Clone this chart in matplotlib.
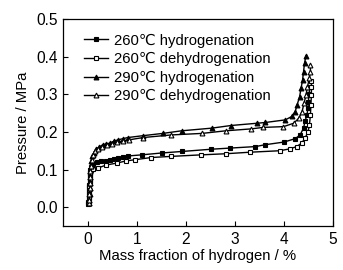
import matplotlib
matplotlib.use('Agg')
import matplotlib.pyplot as plt

plt.rcParams['font.family'] = ['Liberation Sans', 'DejaVu Sans']
plt.rcParams['font.size'] = 10.7

# 260 C hydrogenation (filled squares)
x_260_h = [0.02, 0.02, 0.025, 0.03, 0.03, 0.035, 0.04, 0.045, 0.05, 0.06, 0.08, 0.12,
           0.2, 0.28, 0.37, 0.45, 0.53, 0.62, 0.72, 0.82, 1.1, 1.51, 1.92, 2.52, 2.9,
           3.42, 3.62, 4.0, 4.23, 4.33, 4.4, 4.43, 4.47, 4.49, 4.5, 4.51, 4.53]
y_260_h = [0.01, 0.02, 0.03, 0.04, 0.05, 0.06, 0.07, 0.08, 0.09, 0.1, 0.108, 0.115,
           0.12, 0.122, 0.124, 0.126, 0.128, 0.13, 0.133, 0.136, 0.139, 0.144, 0.148,
           0.154, 0.157, 0.161, 0.166, 0.173, 0.182, 0.192, 0.21, 0.228, 0.246, 0.263,
           0.28, 0.3, 0.32]

# 260 C dehydrogenation (open squares)
x_260_d = [0.01, 0.015, 0.02, 0.025, 0.03, 0.035, 0.04, 0.045, 0.05, 0.06, 0.08, 0.12,
           0.21, 0.38, 0.59, 0.79, 0.96, 1.3, 1.71, 2.31, 2.82, 3.3, 3.92, 4.12, 4.26,
           4.36, 4.43, 4.49, 4.52, 4.54, 4.55, 4.56, 4.56, 4.56]
y_260_d = [0.008, 0.015, 0.025, 0.035, 0.045, 0.055, 0.065, 0.075, 0.085, 0.092, 0.098,
           0.101, 0.104, 0.112, 0.117, 0.123, 0.126, 0.132, 0.135, 0.139, 0.142, 0.146,
           0.15, 0.155, 0.161, 0.17, 0.183, 0.2, 0.218, 0.245, 0.272, 0.298, 0.32, 0.335]

# 290 C hydrogenation (filled triangles)
x_290_h = [0.03, 0.035, 0.04, 0.045, 0.05, 0.055, 0.06, 0.07, 0.08, 0.1, 0.13, 0.18,
           0.24, 0.31, 0.38, 0.45, 0.53, 0.62, 0.72, 0.82, 1.13, 1.53, 1.92, 2.53, 2.92,
           3.45, 3.62, 4.03, 4.16, 4.23, 4.27, 4.32, 4.35, 4.38, 4.4, 4.42, 4.45]
y_290_h = [0.01, 0.02, 0.035, 0.05, 0.065, 0.08, 0.095, 0.11, 0.122, 0.135, 0.145, 0.155,
           0.16, 0.166, 0.168, 0.17, 0.175, 0.179, 0.182, 0.185, 0.19, 0.196, 0.203,
           0.21, 0.217, 0.223, 0.225, 0.232, 0.241, 0.254, 0.272, 0.294, 0.316, 0.338,
           0.36, 0.383, 0.402]

# 290 C dehydrogenation (open triangles)
x_290_d = [0.025, 0.03, 0.035, 0.04, 0.045, 0.05, 0.06, 0.07, 0.09, 0.12, 0.16, 0.22,
           0.3, 0.4, 0.5, 0.6, 0.72, 0.85, 1.13, 1.71, 2.33, 2.82, 3.33, 3.58, 3.99, 4.2,
           4.3, 4.37, 4.41, 4.45, 4.48, 4.52, 4.54, 4.54]
y_290_d = [0.01, 0.02, 0.035, 0.05, 0.065, 0.08, 0.095, 0.11, 0.125, 0.138, 0.148, 0.155,
           0.16, 0.164, 0.168, 0.172, 0.176, 0.179, 0.185, 0.192, 0.196, 0.203, 0.208,
           0.212, 0.214, 0.223, 0.236, 0.254, 0.276, 0.298, 0.32, 0.343, 0.36, 0.377]

labels = ['260\u2103 hydrogenation', '260\u2103 dehydrogenation',
          '290\u2103 hydrogenation', '290\u2103 dehydrogenation']

fig = plt.figure(figsize=(3.43, 2.70), dpi=100)
ax = fig.add_axes([63 / 343, 1 - 226 / 270, 270 / 343, 207 / 270])

style = dict(color='black', linewidth=1.0, markersize=3.5, markeredgewidth=0.8)
ax.plot(x_260_h, y_260_h, marker='s', markerfacecolor='black', label=labels[0], **style)
ax.plot(x_260_d, y_260_d, marker='s', markerfacecolor='white', label=labels[1], **style)
ax.plot(x_290_h, y_290_h, marker='^', markerfacecolor='black', label=labels[2], **style)
ax.plot(x_290_d, y_290_d, marker='^', markerfacecolor='white', label=labels[3], **style)

ax.set_xlim(-0.5, 5)
ax.set_ylim(-0.05, 0.5)
ax.set_xticks([0, 1, 2, 3, 4, 5])
ax.set_yticks([0.0, 0.1, 0.2, 0.3, 0.4, 0.5])
ax.set_yticklabels(['0.0', '0.1', '0.2', '0.3', '0.4', '0.5'])
ax.tick_params(direction='in', length=3.5, width=0.8, top=False, right=False, pad=4,
               labelsize=11.2)
for s in ax.spines.values():
    s.set_linewidth(0.9)

ax.set_xlabel('Mass fraction of hydrogen / %', labelpad=2)
ax.set_ylabel('Pressure / MPa', labelpad=4)

ax.legend(loc='upper left', frameon=False, handlelength=1.6, handletextpad=0.4,
          labelspacing=0.3, borderaxespad=0.3, bbox_to_anchor=(0.04, 0.98))

fig.savefig('out.png', dpi=100)
